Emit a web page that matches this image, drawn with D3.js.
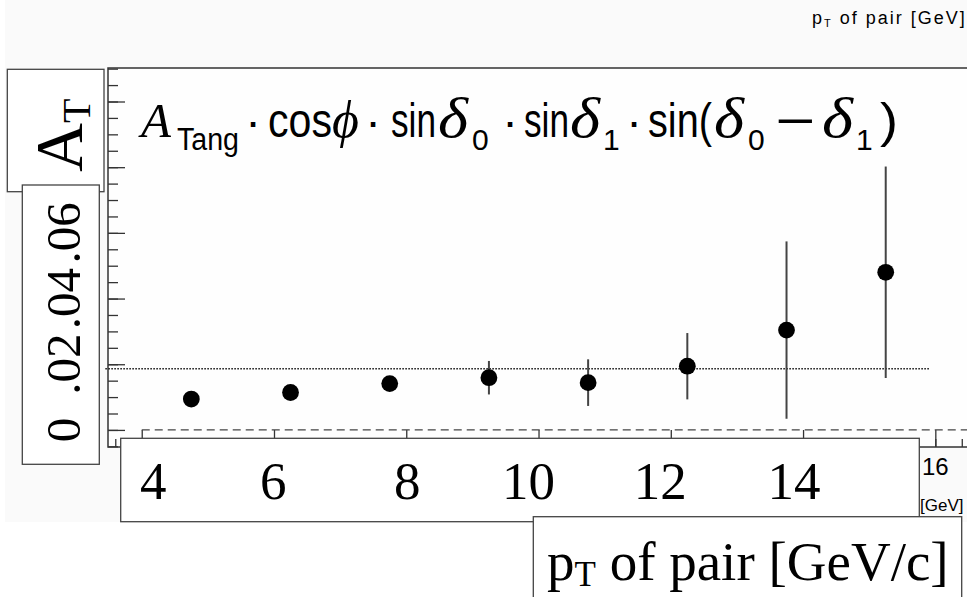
<!DOCTYPE html>
<html>
<head>
<meta charset="utf-8">
<script src="https://cdn.jsdelivr.net/npm/d3@7"></script>
<style>
  html, body { margin: 0; padding: 0; background: #ffffff; }
  svg { display: block; }
</style>
</head>
<body>
<svg id="chart" width="967" height="597"></svg>
<script>
// ---------------- data ----------------
const ptCenters   = [4.75, 6.25, 7.75, 9.25, 10.75, 12.25, 13.75, 15.25];
const asymmetry   = [0.0094, 0.0114, 0.0141, 0.0159, 0.0144, 0.0194, 0.0304, 0.0480];
const asymError   = [0.0020, 0.0020, 0.0022, 0.0051, 0.0071, 0.0101, 0.0270, 0.0322];
const meanLevel   = 0.0186;
const meanRange   = [3.45, 15.92];
const zeroRange   = [4.0, 16.7];
const xMajorTicks = [4, 6, 8, 10, 12, 14, 16];
const xTickLabels = ["4", "6", "8", "10", "12", "14"];
const xLabelNudge = [11.6, -0.7, 1, -10, -10.5, -9];
const yMajorTicks = [0, 0.02, 0.04, 0.06, 0.08, 0.10];
const yLabelValues = [0, 0.02, 0.04, 0.06];
const yTickLabels = ["0", ".02", ".04", ".06"];

// ---------------- layout ----------------
const svg = d3.select("#chart");
const frame = {left: 108, top: 68, right: 975, bottom: 447};
const x = d3.scaleLinear().domain([3.49, 16.6]).range([frame.left, frame.right]);
const y = d3.scaleLinear().domain([-0.0052, 0.1102]).range([frame.bottom, frame.top]);
const serif = "'Liberation Serif', 'Times New Roman', serif";
const sans = "'Liberation Sans', Arial, Helvetica, sans-serif";
const lineCol = "#333";

// canvas background
svg.append("rect").attr("x", 5).attr("y", 0).attr("width", 962).attr("height", 522).attr("fill", "#fafafa");

// frame
svg.append("rect")
  .attr("x", frame.left).attr("y", frame.top)
  .attr("width", frame.right - frame.left).attr("height", frame.bottom - frame.top)
  .attr("fill", "#fefefe").attr("stroke", lineCol).attr("stroke-width", 1.5);

// y ticks (inside, on left frame edge)
const yMinor = d3.range(-1, 23).map(i => +(i * 0.005).toFixed(3)).filter(v => y(v) >= frame.top && y(v) <= frame.bottom);
const yAxisMinor = d3.axisRight(y).tickValues(yMinor).tickSize(10).tickFormat("");
const yAxisMajor = d3.axisRight(y).tickValues(yMajorTicks).tickSize(17).tickFormat("");
[yAxisMinor, yAxisMajor].forEach(ax => {
  const g = svg.append("g").attr("transform", `translate(${frame.left},0)`).call(ax);
  g.select(".domain").remove();
  g.selectAll("line").attr("stroke", lineCol).attr("stroke-width", 1.3);
});

// x ticks (inside, on bottom frame edge)
const xMinor = d3.range(3.6, 16.6, 0.4).map(v => +v.toFixed(1));
const xAxisMinor = d3.axisTop(x).tickValues(xMinor).tickSize(8).tickFormat("");
const xAxisMajor = d3.axisTop(x).tickValues(xMajorTicks).tickSize(17).tickFormat("");
[xAxisMinor, xAxisMajor].forEach(ax => {
  const g = svg.append("g").attr("transform", `translate(0,${frame.bottom})`).call(ax);
  g.select(".domain").remove();
  g.selectAll("line").attr("stroke", lineCol).attr("stroke-width", 1.3);
});

// zero dashed line
svg.append("line")
  .attr("x1", x(zeroRange[0])).attr("x2", x(zeroRange[1]))
  .attr("y1", y(0)).attr("y2", y(0))
  .attr("stroke", "#444").attr("stroke-width", 1.3).attr("stroke-dasharray", "8,5");

// mean dotted line
svg.append("line")
  .attr("x1", x(meanRange[0])).attr("x2", x(meanRange[1]))
  .attr("y1", y(meanLevel)).attr("y2", y(meanLevel))
  .attr("stroke", "#111").attr("stroke-width", 1.5).attr("stroke-dasharray", "1.5,1.5");

// error bars and markers
const pts = ptCenters.map((p, i) => ({x: p, v: asymmetry[i], e: asymError[i]}));
svg.append("g").selectAll("line").data(pts).join("line")
  .attr("x1", d => x(d.x)).attr("x2", d => x(d.x))
  .attr("y1", d => y(d.v - d.e)).attr("y2", d => y(d.v + d.e))
  .attr("stroke", "#444").attr("stroke-width", 2);
svg.append("g").selectAll("circle").data(pts).join("circle")
  .attr("cx", d => x(d.x)).attr("cy", d => y(d.v)).attr("r", 8.4)
  .attr("fill", "#000");

// formula: pieces with explicit layout positions / widths
const BASE = 137, SUBBASE = 150;
const formula = [
  {t: "A",      x: 141, f: serif, s: 49, it: true},
  {t: "Tang",   x: 177, w: 62, f: sans,  s: 31, sub: true},
  {t: "\u00B7", x: 253, f: sans,  s: 47, mid: true},
  {t: "cos",    x: 268, w: 64, f: sans,  s: 48},
  {t: "\u03D5", x: 332, f: serif, s: 52, it: true},
  {t: "\u00B7", x: 373, f: sans,  s: 47, mid: true},
  {t: "sin",    x: 391, w: 45, f: sans,  s: 48},
  {t: "\u03B4", x: 438, w: 30, f: serif, s: 56, it: true},
  {t: "0",      x: 472, f: sans,  s: 30, sub: true},
  {t: "\u00B7", x: 510, f: sans,  s: 47, mid: true},
  {t: "sin",    x: 524, w: 45, f: sans,  s: 48},
  {t: "\u03B4", x: 570, w: 30, f: serif, s: 56, it: true},
  {t: "1",      x: 603, f: sans,  s: 30, sub: true},
  {t: "\u00B7", x: 634, f: sans,  s: 47, mid: true},
  {t: "sin(",   x: 648, w: 64, f: sans,  s: 48},
  {t: "\u03B4", x: 714, w: 30, f: serif, s: 56, it: true},
  {t: "0",      x: 748, f: sans,  s: 30, sub: true},
  {t: "\u2212", x: 795, w: 40, f: sans,  s: 48, mid: true},
  {t: "\u03B4", x: 822, w: 31, f: serif, s: 56, it: true},
  {t: "1",      x: 856, f: sans,  s: 30, sub: true},
  {t: ")",      x: 880, w: 18, f: sans,  s: 48}
];
const ft = svg.append("g").selectAll("text").data(formula).join("text")
  .attr("x", d => d.x).attr("y", d => d.sub ? SUBBASE : BASE)
  .attr("text-anchor", d => d.mid ? "middle" : "start")
  .attr("font-family", d => d.f).attr("font-size", d => d.s)
  .attr("font-style", d => d.it ? "italic" : "normal")
  .attr("fill", "#000").text(d => d.t);
ft.filter(d => d.w).attr("textLength", d => d.w).attr("lengthAdjust", "spacingAndGlyphs");

// ---------------- overlay boxes ----------------
const box = (x0, y0, x1, y1) => svg.append("rect")
  .attr("x", x0).attr("y", y0).attr("width", x1 - x0).attr("height", y1 - y0)
  .attr("fill", "#fff").attr("stroke", "#444").attr("stroke-width", 1.3);

// A_T box
box(7.3, 69.3, 104, 191.7);
const at = svg.append("text").attr("transform", "translate(82,172) rotate(-90)")
  .attr("font-family", serif).attr("fill", "#000");
at.append("tspan").attr("font-size", 68).text("A");
at.append("tspan").attr("font-size", 40).attr("dy", 8).text("T");

// y label box
box(22.3, 185, 99.3, 464.3);
svg.append("g").selectAll("text").data(yLabelValues).join("text")
  .attr("transform", d => `translate(80,${y(d)}) rotate(-90)`)
  .attr("text-anchor", "middle").attr("font-family", serif).attr("font-size", 49)
  .attr("fill", "#000")
  .text((d, i) => yTickLabels[i]);

// x label box
box(120.7, 438.3, 919.3, 521.7);
svg.append("g").selectAll("text").data(xTickLabels).join("text")
  .attr("x", (d, i) => x(+d) + xLabelNudge[i]).attr("y", 499)
  .attr("text-anchor", "middle").attr("font-family", serif).attr("font-size", 53)
  .attr("fill", "#000").text(d => d);

// title box
box(533.3, 516.7, 961.7, 610);
const tt = svg.append("text").attr("x", 547).attr("y", 580).attr("font-family", serif).attr("fill", "#000");
tt.append("tspan").attr("font-size", 55).text("p");
tt.append("tspan").attr("font-size", 35).attr("dy", 6).text("T");
tt.append("tspan").attr("font-size", 55).attr("dy", -6).text(" of pair [GeV/c]");

// small leftover axis texts
const tr = svg.append("text").attr("x", 812).attr("y", 24).attr("font-family", sans).attr("fill", "#000").attr("letter-spacing", 2.0);
tr.append("tspan").attr("font-size", 18).text("p");
tr.append("tspan").attr("font-size", 11).attr("dy", 3).text("T");
tr.append("tspan").attr("font-size", 18).attr("dy", -3).text(" of pair [GeV]");
svg.append("text").attr("x", 922).attr("y", 475).attr("font-family", sans).attr("font-size", 24).attr("fill", "#000").text("16");
svg.append("text").attr("x", 920).attr("y", 511).attr("font-family", sans).attr("font-size", 17).attr("fill", "#000").text("[GeV]");
</script>
</body>
</html>
